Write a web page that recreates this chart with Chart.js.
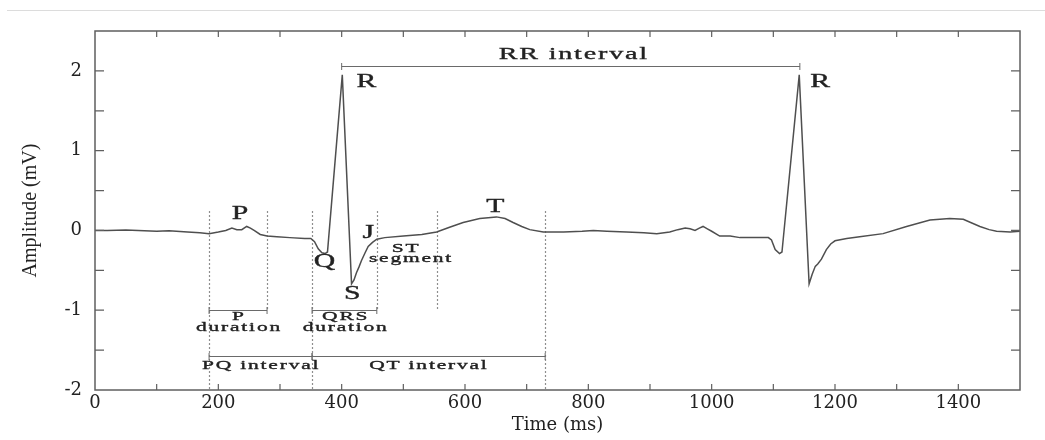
<!DOCTYPE html>
<html lang="en">
<head>
    <meta charset="UTF-8">
    <title>ECG waveform</title>
    <script src="https://cdn.jsdelivr.net/npm/chart.js@4.4.1/dist/chart.umd.min.js"></script>
    <style>
        body { margin: 0; background: #ffffff; }
        .wrap { position: relative; width: 1045px; height: 440px; }
        /* thin grey rule along the top of the picture */
        .rule { position: absolute; top: 10px; left: 7px; right: 0; height: 1px; background: #dcdcdc; }
        canvas { position: absolute; left: 0; top: 0; }
    </style>
</head>
<body>
<div class="wrap">
    <canvas id="ecgChart" width="1045" height="440"></canvas>
    <div class="rule"></div>
</div>

<script>
    // --- DATA: one ECG trace (time in ms, amplitude in mV) ---
    const ecgTimes = [0, 20, 50, 80, 100, 120, 150, 170, 185, 200, 212, 222, 230, 238, 246, 252, 258, 268, 279, 295,
        316, 340, 350, 356, 362, 368, 373, 377, 401, 416, 420, 424, 428, 432, 438, 443, 450, 457, 470, 500,
        530, 554, 575, 597, 624, 651, 665, 678, 692, 705, 727, 760, 790, 808, 830, 862, 890, 911, 932, 945,
        957, 965, 973, 980, 986, 993, 1000, 1013, 1030, 1046, 1070, 1092, 1097, 1103, 1110, 1114, 1142, 1158, 1163, 1168,
        1172, 1178, 1186, 1193, 1200, 1219, 1240, 1278, 1316, 1354, 1386, 1408, 1420, 1435, 1450, 1462, 1484, 1500];
    const ecgAmps = [0.00, 0.00, 0.005, -0.005, -0.01, -0.005, -0.02, -0.03, -0.04, -0.02, 0.00, 0.03, 0.01, 0.01, 0.05, 0.03, 0.00, -0.05, -0.07, -0.08,
        -0.09, -0.10, -0.10, -0.14, -0.23, -0.28, -0.29, -0.27, 1.95, -0.67, -0.62, -0.53, -0.46, -0.38, -0.28, -0.20, -0.15, -0.11, -0.09, -0.07,
        -0.05, -0.02, 0.04, 0.10, 0.15, 0.17, 0.15, 0.10, 0.05, 0.01, -0.02, -0.02, -0.01, 0.00, -0.01, -0.02, -0.03, -0.04, -0.02, 0.01,
        0.03, 0.02, 0.00, 0.03, 0.05, 0.02, -0.01, -0.07, -0.07, -0.09, -0.09, -0.09, -0.12, -0.24, -0.29, -0.27, 1.95, -0.67, -0.55, -0.45,
        -0.42, -0.36, -0.24, -0.17, -0.13, -0.10, -0.08, -0.04, 0.05, 0.13, 0.15, 0.14, 0.10, 0.05, 0.01, -0.01, -0.02, -0.01];

    // axis ticks
    const xTickValues = [0, 200, 400, 600, 800, 1000, 1200, 1400];
    const yTickValues = [-2, -1, 0, 1, 2];

    // wave letters
    const peakNames = ['P', 'Q', 'R', 'S', 'J', 'T', 'R'];
    const peakTimes = [235, 372, 440, 417, 443, 649, 1176];
    const peakAmps = [0.20, -0.40, 1.86, -0.80, -0.04, 0.29, 1.86];

    // dotted boundaries: time, lower end (upper end is shared)
    const boundaryTimes = [185, 279, 352, 457, 554, 730];
    const boundaryLows = [-2, -1, -2, -1, -1, -2];
    const boundaryTop = 0.24;

    // measured spans (P duration, QRS duration, PQ, QT, RR)
    const spanStarts = [185, 352, 185, 352, 400];
    const spanEnds = [279, 457, 352, 730, 1143];
    const spanLevels = [-1, -1, -1.58, -1.58, 2.06];

    // span captions
    const noteTexts = ['P', 'duration', 'QRS', 'duration', 'PQ interval', 'QT interval', 'RR interval', 'ST', 'segment'];
    const noteTimes = [232, 232, 405, 405, 268, 540, 775, 503, 511];
    const noteAmps = [-1.085, -1.22, -1.085, -1.22, -1.69, -1.69, 2.20, -0.226, -0.35];

    const INK = '#222222';
    const FRAME = '#5f5f5f';
    const STRETCH = 1.65; // the reference figure is stretched sideways

    function stretchedText(ctx, txt, x, y, size, spacing) {
        ctx.save();
        ctx.translate(x, y);
        ctx.scale(STRETCH, 1);
        ctx.font = size + 'px "Liberation Serif"';
        ctx.letterSpacing = spacing + 'px';
        ctx.textAlign = 'center';
        ctx.textBaseline = 'middle';
        ctx.fillStyle = INK;
        ctx.strokeStyle = INK;
        ctx.lineWidth = 0.35;
        ctx.fillText(txt, spacing / 2, 0);
        ctx.strokeText(txt, spacing / 2, 0);
        ctx.restore();
    }

    // frame with inward ticks on all four sides, plus the annotations
    const ecgDecor = {
        id: 'ecgDecor',
        beforeDatasetsDraw(chart) {
            const { ctx, scales: { x, y } } = chart;
            ctx.save();
            ctx.strokeStyle = '#6a6a6a';
            ctx.lineWidth = 1.2;
            ctx.setLineDash([1.5, 2.5]);
            boundaryTimes.forEach((t, i) => {
                const px = Math.round(x.getPixelForValue(t)) + 0.5;
                ctx.beginPath();
                ctx.moveTo(px, y.getPixelForValue(boundaryTop));
                ctx.lineTo(px, y.getPixelForValue(boundaryLows[i]));
                ctx.stroke();
            });
            ctx.restore();
        },
        afterDatasetsDraw(chart) {
            const { ctx, chartArea: a, scales: { x, y } } = chart;
            ctx.save();

            // spans with end caps
            ctx.strokeStyle = '#6a6a6a';
            ctx.lineWidth = 1;
            spanStarts.forEach((s, i) => {
                const x0 = x.getPixelForValue(s), x1 = x.getPixelForValue(spanEnds[i]);
                const py = Math.round(y.getPixelForValue(spanLevels[i])) + 0.5;
                ctx.beginPath();
                ctx.moveTo(x0, py); ctx.lineTo(x1, py);
                ctx.moveTo(x0, py - 3.5); ctx.lineTo(x0, py + 3.5);
                ctx.moveTo(x1, py - 3.5); ctx.lineTo(x1, py + 3.5);
                ctx.stroke();
            });

            // frame
            ctx.strokeStyle = FRAME;
            ctx.lineWidth = 1.5;
            ctx.strokeRect(a.left, a.top, a.right - a.left, a.bottom - a.top);

            // inward ticks: every 100 ms, every 0.5 mV
            ctx.lineWidth = 1.2;
            ctx.beginPath();
            for (let t = 100; t < x.max; t += 100) {
                const px = x.getPixelForValue(t);
                ctx.moveTo(px, a.bottom); ctx.lineTo(px, a.bottom - 6);
                ctx.moveTo(px, a.top); ctx.lineTo(px, a.top + 6);
            }
            for (let v = y.min + 0.5; v < y.max; v += 0.5) {
                const py = y.getPixelForValue(v);
                ctx.moveTo(a.left, py); ctx.lineTo(a.left + 9, py);
                ctx.moveTo(a.right, py); ctx.lineTo(a.right - 9, py);
            }
            ctx.stroke();

            peakNames.forEach((n, i) => {
                stretchedText(ctx, n, x.getPixelForValue(peakTimes[i]), y.getPixelForValue(peakAmps[i]), 18, 0);
            });
            noteTexts.forEach((n, i) => {
                const big = n === 'RR interval';
                stretchedText(ctx, n, x.getPixelForValue(noteTimes[i]), y.getPixelForValue(noteAmps[i]), big ? 17 : 13, 1.1);
            });
            ctx.restore();
        }
    };

    const ctx = document.getElementById('ecgChart').getContext('2d');
    new Chart(ctx, {
        type: 'line',
        data: {
            datasets: [{
                data: ecgTimes.map((t, i) => ({ x: t, y: ecgAmps[i] })),
                borderColor: '#4f4f4f',
                borderWidth: 1.5,
                pointRadius: 0,
                tension: 0,
                fill: false
            }]
        },
        options: {
            responsive: false,
            animation: false,
            devicePixelRatio: 1,
            layout: { padding: { top: 31, right: 25, left: 0, bottom: 0 } },
            plugins: {
                legend: { display: false },
                tooltip: { enabled: false }
            },
            scales: {
                x: {
                    type: 'linear',
                    min: 0,
                    max: 1500,
                    afterBuildTicks: s => { s.ticks = xTickValues.map(v => ({ value: v })); },
                    afterFit: s => { s.height = 50; },
                    ticks: {
                        font: { family: 'DejaVu Serif', size: 18 },
                        color: INK,
                        padding: 3,
                        maxRotation: 0,
                        autoSkip: false,
                        callback: v => String(v)
                    },
                    grid: { display: false, drawTicks: false },
                    border: { display: false },
                    title: {
                        display: true,
                        text: 'Time (ms)',
                        font: { family: 'DejaVu Serif', size: 18 },
                        color: INK,
                        padding: { top: 0, bottom: 4 }
                    }
                },
                y: {
                    min: -2,
                    max: 2.5,
                    afterBuildTicks: s => { s.ticks = yTickValues.map(v => ({ value: v })); },
                    afterFit: s => { s.width = 95; },
                    ticks: {
                        font: { family: 'DejaVu Serif', size: 18 },
                        color: INK,
                        padding: 13,
                        callback: v => String(v)
                    },
                    grid: { display: false, drawTicks: false },
                    border: { display: false },
                    title: {
                        display: true,
                        text: 'Amplitude (mV)',
                        font: { family: 'Liberation Serif', size: 20 },
                        color: INK,
                        padding: { top: 19, bottom: 0 }
                    }
                }
            }
        },
        plugins: [ecgDecor]
    });
</script>
</body>
</html>
